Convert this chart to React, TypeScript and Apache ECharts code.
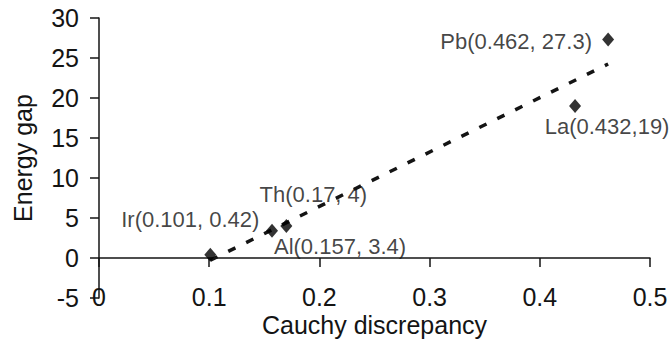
import React, { useEffect, useRef } from "react";
import * as echarts from "echarts";

const pointNames = ["Ir", "Al", "Th", "La", "Pb"];
const xValues = [0.101, 0.157, 0.17, 0.432, 0.462];
const yValues = [0.42, 3.4, 4, 19, 27.3];
const pointLabels = ["Ir(0.101, 0.42)", "Al(0.157, 3.4)", "Th(0.17, 4)", "La(0.432,19)", "Pb(0.462, 27.3)"];
const labelOffsets = [
  [-20, -35],
  [68, 16],
  [27, -32],
  [32, 20],
  [-92, 2],
];

const xAxisTitle = "Cauchy discrepancy";
const yAxisTitle = "Energy gap";

const FONT = '"Liberation Sans", Arial, Helvetica, sans-serif';
const INK = "#141414";

function trendEndpoints(): number[][] {
  const n = xValues.length;
  const mx = xValues.reduce((a, b) => a + b, 0) / n;
  const my = yValues.reduce((a, b) => a + b, 0) / n;
  let sxy = 0;
  let sxx = 0;
  for (let i = 0; i < n; i++) {
    sxy += (xValues[i] - mx) * (yValues[i] - my);
    sxx += (xValues[i] - mx) * (xValues[i] - mx);
  }
  const slope = sxy / sxx;
  const icpt = my - slope * mx;
  const x0 = Math.min(...xValues);
  const x1 = Math.max(...xValues);
  return [
    [x0, icpt + slope * x0],
    [x1, icpt + slope * x1],
  ];
}

export default function App() {
  const ref = useRef<HTMLDivElement>(null);
  useEffect(() => {
    if (!ref.current) return;
    const chart = echarts.init(ref.current, null, { renderer: "svg" });
    const scatterData = xValues.map((x, i) => ({
      name: pointNames[i],
      value: [x, yValues[i]],
      label: { formatter: pointLabels[i], offset: labelOffsets[i] },
    }));
    chart.setOption({
      animation: false,
      backgroundColor: "#ffffff",
      textStyle: { fontFamily: FONT, color: INK },
      grid: {
        left: 99,
        top: 18,
        width: 551,
        height: 280,
        containLabel: false,
        outerBoundsMode: "none",
      },
      xAxis: {
        type: "value",
        min: 0,
        max: 0.5,
        interval: 0.1,
        position: "bottom",
        offset: -40,
        axisLine: { show: true, onZero: false, lineStyle: { color: INK, width: 1.5 } },
        axisTick: { show: true, inside: false, length: 9, lineStyle: { color: INK, width: 1.5 } },
        axisLabel: { fontSize: 25, lineHeight: 22, margin: 28, color: INK, fontFamily: FONT },
        splitLine: { show: false },
        name: xAxisTitle,
        nameLocation: "middle",
        nameGap: 56,
        nameMoveOverlap: false,
        nameTextStyle: { fontSize: 25, lineHeight: 22, color: INK, fontFamily: FONT },
      },
      yAxis: {
        type: "value",
        min: -5,
        max: 30,
        interval: 5,
        axisLine: { show: true, onZero: false, lineStyle: { color: INK, width: 1.5 } },
        axisTick: { show: true, inside: false, length: 9, lineStyle: { color: INK, width: 1.5 } },
        axisLabel: { fontSize: 25, margin: 20, color: INK, fontFamily: FONT },
        splitLine: { show: false },
        name: yAxisTitle,
        nameLocation: "middle",
        nameGap: 64,
        nameMoveOverlap: false,
        nameTextStyle: { fontSize: 25, color: INK, fontFamily: FONT },
      },
      series: [
        {
          type: "line",
          data: trendEndpoints(),
          symbol: "none",
          silent: true,
          z: 1,
          lineStyle: { color: INK, width: 3.5, type: [8, 12], cap: "butt" },
        },
        {
          type: "scatter",
          data: scatterData,
          symbol: "diamond",
          symbolSize: [12, 14],
          z: 3,
          clip: false,
          itemStyle: { color: "#000000" },
          label: {
            show: true,
            position: "inside",
            align: "center",
            verticalAlign: "middle",
            fontSize: 22,
            color: INK,
            fontFamily: FONT,
          },
        },
      ],
    });
    return () => chart.dispose();
  }, []);
  return (
    <div
      ref={ref}
      style={{ position: "fixed", left: 0, top: 0, width: 669, height: 339, background: "#fff" }}
    />
  );
}
